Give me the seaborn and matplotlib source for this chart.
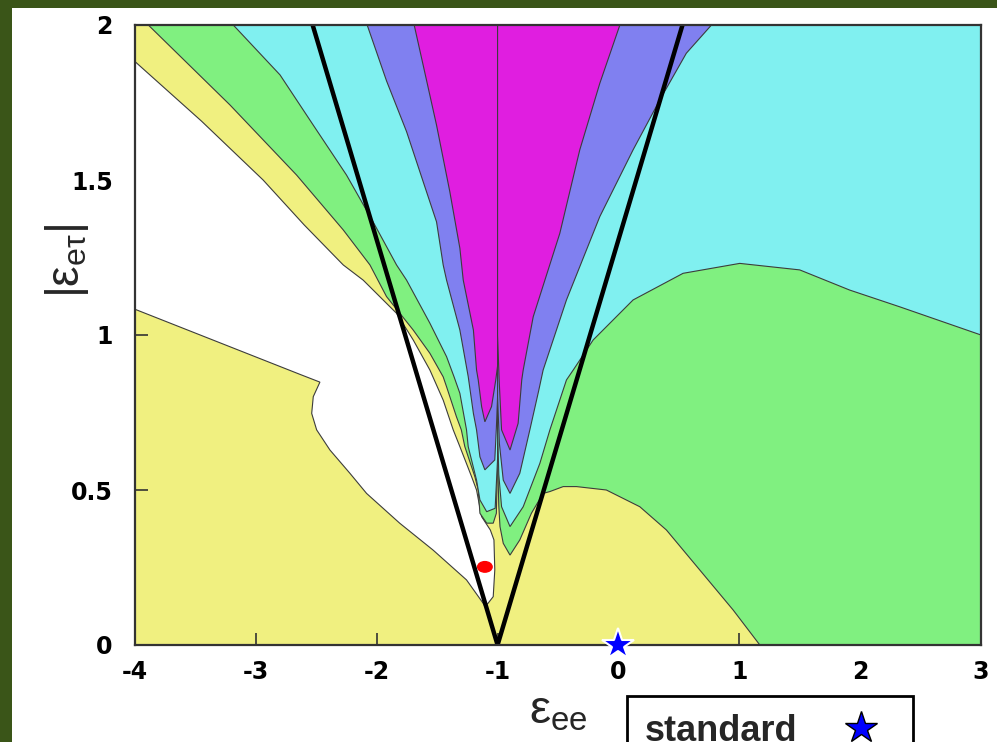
import numpy as np
import seaborn as sns
import matplotlib.pyplot as plt
from matplotlib.patches import Rectangle, Ellipse
from matplotlib.lines import Line2D

# contour boundaries (eps_ee, |eps_etau|)
white_x = [-4.0, -3.45, -2.94, -2.6, -2.277, -2.112, -1.836, -1.698, -1.56, -1.45, -1.367,
           -1.312, -1.215, -1.174, -1.132, -1.06, -1.03, -1.023, -1.036, -1.078, -1.105,
           -1.12, -1.257, -1.533, -1.81, -2.084, -2.222, -2.387, -2.497, -2.538, -2.525,
           -2.47, -2.635, -4.0]
white_y = [1.882, 1.69, 1.50, 1.355, 1.226, 1.177, 1.07, 0.984, 0.887, 0.79, 0.694,
           0.64, 0.543, 0.5, 0.414, 0.371, 0.339, 0.242, 0.156, 0.135, 0.125,
           0.135, 0.21, 0.306, 0.393, 0.489, 0.554, 0.629, 0.694, 0.747, 0.801,
           0.848, 0.873, 1.083]

green_left_x = [-3.89, -1.0, -1.0, -1.01, -1.036, -1.09, -1.146, -1.16, -1.188, -1.271, -1.3,
                -1.34, -1.422, -1.45, -1.56, -1.698, -1.919, -2.056, -2.277, -2.663, -3.214]
green_left_y = [2.0, 2.0, 0.6, 0.425, 0.393, 0.393, 0.425, 0.5, 0.543, 0.64, 0.694,
                0.736, 0.833, 0.865, 0.941, 1.016, 1.124, 1.226, 1.339, 1.516, 1.742]

cyan_left_x = [-3.187, -1.0, -1.0, -1.02, -1.09, -1.146, -1.174, -1.243, -1.257, -1.312, -1.36,
               -1.422, -1.56, -1.753, -1.836, -2.03, -2.25, -2.525, -2.8]
cyan_left_y = [2.0, 2.0, 0.6, 0.441, 0.43, 0.468, 0.532, 0.64, 0.694, 0.812, 0.865,
               0.93, 1.038, 1.177, 1.226, 1.365, 1.516, 1.677, 1.839]

blue_left_x = [-2.079, -1.0, -1.0, -1.01, -1.023, -1.105, -1.146, -1.174, -1.2, -1.243,
               -1.312, -1.422, -1.45, -1.505, -1.616, -1.753, -1.919]
blue_left_y = [2.0, 2.0, 0.8, 0.7, 0.597, 0.565, 0.607, 0.694, 0.747, 0.866,
               1.016, 1.177, 1.226, 1.365, 1.495, 1.656, 1.82]

magenta_left_x = [-1.69, -1.0, -1.0, -1.015, -1.05, -1.105, -1.132, -1.16, -1.174, -1.2,
                  -1.284, -1.312, -1.395, -1.505, -1.616]
magenta_left_y = [2.0, 2.0, 0.9, 0.855, 0.769, 0.72, 0.769, 0.855, 0.887, 1.016,
                  1.177, 1.28, 1.462, 1.677, 1.871]

green_right_x = [-1.0, 3.0, 3.0, 1.17, 0.949, 0.673, 0.397, 0.177, -0.1, -0.347, -0.457,
                 -0.567, -0.623, -0.72, -0.816, -0.897, -0.953, -0.98, -0.99, -1.0]
green_right_y = [2.0, 2.0, 0.0, 0.0, 0.113, 0.242, 0.371, 0.446, 0.5, 0.511, 0.511,
                 0.495, 0.489, 0.425, 0.339, 0.29, 0.328, 0.382, 0.45, 0.6]

cyan_right_x = [-1.0, 3.0, 3.0, 2.327, 1.913, 1.5, 1.004, 0.535, 0.121, -0.209, -0.374,
                -0.43, -0.567, -0.65, -0.788, -0.897, -0.967, -0.99, -1.0]
cyan_right_y = [2.0, 2.0, 1.0, 1.091, 1.145, 1.21, 1.231, 1.199, 1.113, 0.984, 0.887,
                0.855, 0.694, 0.586, 0.446, 0.382, 0.446, 0.55, 0.7]

blue_right_x = [-1.0, 0.77, 0.562, 0.342, 0.121, -0.154, -0.43, -0.623, -0.66, -0.733,
                -0.816, -0.897, -0.953, -0.985, -1.0]
blue_right_y = [2.0, 2.0, 1.909, 1.758, 1.597, 1.382, 1.113, 0.887, 0.82, 0.694,
                0.554, 0.489, 0.532, 0.65, 0.8]

magenta_right_x = [-1.0, 0.012, -0.154, -0.32, -0.485, -0.705, -0.788, -0.8, -0.83, -0.897,
                   -0.967, -0.987, -1.0]
magenta_right_y = [2.0, 2.0, 1.812, 1.597, 1.328, 1.059, 0.887, 0.855, 0.715, 0.629,
                   0.694, 0.855, 1.0]

# |eps_etau| bound (black V)
bound_x = [-2.53, -1.0, 0.53]
bound_y = [2.0, 0.0, 2.0]

best_fit_x, best_fit_y = -1.105, 0.252
standard_x, standard_y = 0.0, 0.0

x_ticks = [-4, -3, -2, -1, 0, 1, 2, 3]
y_ticks = [0, 0.5, 1, 1.5, 2]
y_tick_labels = ['0', '0.5', '1', '1.5', '2']

sns.set_style("ticks")
plt.rcParams['font.family'] = ['Liberation Sans', 'DejaVu Sans']
plt.rcParams['mathtext.fontset'] = 'custom'
plt.rcParams['mathtext.rm'] = 'DejaVu Sans'
plt.rcParams['mathtext.it'] = 'DejaVu Sans'
plt.rcParams['mathtext.default'] = 'regular'

fig = plt.figure(figsize=(9.97, 7.42), dpi=100)
fig.patch.set_facecolor('#3a5518')
fig.add_artist(Rectangle((12 / 997, 0), 1, 1 - 8 / 742, transform=fig.transFigure,
                         facecolor='white', edgecolor='none', zorder=-5))
ax = fig.add_axes([135 / 997, 1 - 645 / 742, 846 / 997, 620 / 742])
ax.set_facecolor('#f0f080')

edge = '#3c3c3c'
regions = [
    (white_x, white_y, 'white'),
    (green_left_x, green_left_y, '#80f080'),
    (green_right_x, green_right_y, '#80f080'),
    (cyan_left_x, cyan_left_y, '#80f0f0'),
    (cyan_right_x, cyan_right_y, '#80f0f0'),
    (blue_left_x, blue_left_y, '#8080f0'),
    (blue_right_x, blue_right_y, '#8080f0'),
    (magenta_left_x, magenta_left_y, '#e01ee0'),
    (magenta_right_x, magenta_right_y, '#e01ee0'),
]
for i, (rx, ry, col) in enumerate(regions):
    ax.fill(rx, ry, facecolor=col, edgecolor=edge, linewidth=0.8, zorder=1 + i * 0.1)

sns.lineplot(x=bound_x, y=bound_y, sort=False, estimator=None, color='black',
             linewidth=3.2, ax=ax, zorder=5)

ax.add_patch(Ellipse((best_fit_x, best_fit_y), 0.12, 0.034, color='red', zorder=6))
ax.plot(standard_x, standard_y, marker='*', markersize=24, markerfacecolor='blue',
        markeredgecolor='white', markeredgewidth=1.5, linestyle='none',
        clip_on=False, zorder=10)

ax.set_xlim(-4, 3)
ax.set_ylim(0, 2)
ax.set_xticks(x_ticks)
ax.set_xticklabels([str(t) for t in x_ticks])
ax.set_yticks(y_ticks)
ax.set_yticklabels(y_tick_labels)
ax.tick_params(axis='both', direction='in', length=9, width=1.2, top=True, right=True,
               colors='#333333', labelcolor='black')
ax.tick_params(axis='x', pad=11)
ax.tick_params(axis='y', pad=16)
for lab in ax.get_xticklabels() + ax.get_yticklabels():
    lab.set_fontweight('bold')
    lab.set_fontfamily('DejaVu Sans')
    lab.set_fontsize(17)
for sp in ax.spines.values():
    sp.set_linewidth(1.6)
    sp.set_color('#333333')
    sp.set_zorder(8)

ax.set_xlabel(r'$\varepsilon_{ee}$', fontsize=34)
ax.xaxis.set_label_coords(0.5, -0.072)
ax.set_ylabel(r'$|\varepsilon_{e\tau}|$', fontsize=33)
ax.yaxis.set_label_coords(-0.052, 0.62)

handle = Line2D([], [], marker='*', markersize=24, markerfacecolor='blue',
                markeredgecolor='black', markeredgewidth=1.0, linestyle='none')
leg = fig.legend([handle], ['standard'], loc='upper left',
                 bbox_to_anchor=(627 / 997, 1 - 696 / 742), bbox_transform=fig.transFigure,
                 borderaxespad=0, markerfirst=False, frameon=True, fancybox=False,
                 framealpha=1, edgecolor='black', borderpad=0.5, handletextpad=0.8,
                 handlelength=1.9, prop={'weight': 'bold', 'size': 26})
leg.get_frame().set_linewidth(2)

plt.savefig('out.png', dpi=100, facecolor=fig.get_facecolor())
